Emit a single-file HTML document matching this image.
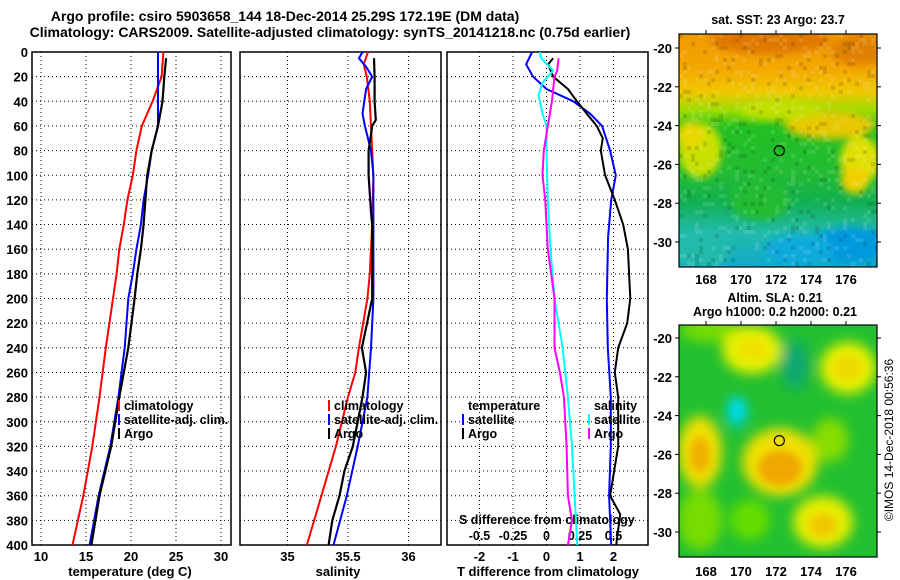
<!DOCTYPE html>
<html><head><meta charset="utf-8"><style>
html,body{margin:0;padding:0;background:#fff;}
svg{display:block;font-family:"Liberation Sans",sans-serif;font-weight:bold;}
</style></head><body>
<svg id="chart" width="900" height="580" viewBox="0 0 900 580" xmlns="http://www.w3.org/2000/svg">
<defs>
<filter id="blur4" x="-50%" y="-50%" width="200%" height="200%"><feGaussianBlur stdDeviation="6"/></filter>
<filter id="blur2" x="-50%" y="-50%" width="200%" height="200%"><feGaussianBlur stdDeviation="4"/></filter>
<clipPath id="clipSst"><rect x="679" y="34" width="198" height="233"/></clipPath>
<clipPath id="clipSla"><rect x="679" y="325" width="198" height="232"/></clipPath>
<linearGradient id="sstGrad" x1="0" y1="0" x2="0" y2="1">
<stop offset="0" stop-color="#f09a00"/><stop offset="0.15" stop-color="#f4a800"/><stop offset="0.25" stop-color="#f0c800"/>
<stop offset="0.33" stop-color="#99dd00"/><stop offset="0.4" stop-color="#22c022"/><stop offset="0.6" stop-color="#22bb33"/><stop offset="0.72" stop-color="#11b050"/>
<stop offset="0.85" stop-color="#22bbaa"/><stop offset="1" stop-color="#11aacc"/>
</linearGradient>
</defs>
<text x="285" y="21" text-anchor="middle" font-size="14">Argo profile: csiro 5903658_144 18-Dec-2014 25.29S 172.19E (DM data)</text>
<text x="330" y="37" text-anchor="middle" font-size="14">Climatology: CARS2009. Satellite-adjusted climatology: synTS_20141218.nc (0.75d earlier)</text>
<g id="panels"></g>
<g id="maps"></g>
<text transform="translate(893,440) rotate(-90)" text-anchor="middle" font-size="12" font-weight="normal">©IMOS 14-Dec-2018 00:56:36</text>
</svg>
<script>
// ---- data (depth in m) ----
const depthsTemp = [0,20,40,60,80,100,120,140,160,180,200,240,280,320,360,400];
const tempClim   = [23.6,23.4,22.4,21.2,20.6,20.2,19.6,19.2,18.7,18.4,18.0,17.2,16.5,15.7,14.7,13.5];
const tempSat    = [23.0,23.0,23.0,23.0,22.3,21.9,21.4,21.1,20.6,20.2,19.7,19.3,18.6,17.7,16.4,15.4];
const depthsArgoT= [5,20,40,60,80,100,120,140,160,180,200,240,280,320,360,400];
const tempArgo   = [23.9,23.7,23.5,23.0,22.3,21.8,21.6,21.4,21.1,20.7,20.4,19.7,18.7,17.8,16.5,15.6];

const depthsSalClim = [0,10,20,40,60,100,140,180,200,240,260,280,320,360,400];
const salClim       = [35.665,35.63,35.655,35.68,35.69,35.71,35.70,35.68,35.66,35.59,35.56,35.50,35.40,35.28,35.16];
const depthsSalSat  = [0,5,12,20,30,50,60,80,100,200,240,280,320,360,400];
const salSat        = [35.62,35.59,35.65,35.70,35.65,35.62,35.64,35.69,35.71,35.71,35.69,35.66,35.58,35.49,35.38];
const depthsSalArgo = [5,20,40,55,60,80,100,130,140,180,200,240,260,280,300,320,340,360,380,400];
const salArgo       = [35.715,35.72,35.72,35.73,35.70,35.67,35.67,35.69,35.70,35.70,35.70,35.615,35.65,35.62,35.58,35.54,35.47,35.43,35.37,35.34];

const depthsTdSat  = [0,10,20,30,40,50,60,80,100,120,150,200,240,280,320,360,400];
const tdiffSat     = [-0.43,-0.61,-0.4,0,0.8,1.3,1.66,1.9,2.07,1.93,1.84,1.8,1.83,1.92,1.92,1.87,1.93];
const depthsTdArgo = [5,10,20,30,40,50,60,70,80,100,120,140,160,200,220,240,260,280,320,360,375,400];
const tdiffArgo    = [0.2,0.05,0.2,0.64,0.91,1.2,1.5,1.68,1.62,1.75,2.04,2.29,2.43,2.5,2.41,2.14,2.04,2.14,2.14,1.9,2.2,2.08];
const depthsSdSat  = [0,5,15,25,35,50,60,80,120,160,200,240,280,320,360,400];
const sdiffSat     = [-0.05,-0.04,0.05,-0.03,-0.06,-0.03,0,0,0.01,0.03,0.06,0.12,0.16,0.19,0.21,0.23];
const depthsSdArgo = [5,15,20,40,60,80,100,120,140,160,200,240,260,280,300,320,360,380,400];
const sdiffArgo    = [0.09,0.08,0.06,0.04,0.01,-0.02,-0.03,-0.01,0,0.01,0.06,0.06,0.1,0.13,0.14,0.15,0.16,0.19,0.16];

const depthTicks = [0,20,40,60,80,100,120,140,160,180,200,220,240,260,280,300,320,340,360,380,400];
const tempTicks = [10,15,20,25,30];
const salTicks = [35,35.5,36];
const salTickLabels = ['35','35.5','36'];
const tdTicks = [-2,-1,0,1,2];
const sdTicks = [-0.5,-0.25,0,0.25,0.5];
const sdTickLabels = ['-0.5','-0.25','0','0.25','0.5'];
const lonTicks = [168,170,172,174,176];
const latTicks = [-20,-22,-24,-26,-28,-30];

// ---- scales ----
const NS='http://www.w3.org/2000/svg';
const Y0=52, Y1=545;
const yD = d => Y0 + d*(Y1-Y0)/400;
const xT = t => 41 + (t-10)*9;
const xS = s => 287.5 + (s-35)*121;
const xTd = v => 546.5 + v*33.5;
const xSd = v => 546.5 + v*134;

function el(tag, attrs, parent){const e=document.createElementNS(NS,tag);for(const k in attrs)e.setAttribute(k,attrs[k]);parent.appendChild(e);return e;}
function txt(parent,x,y,s,anchor,size){const t=el('text',{x:x,y:y,'text-anchor':anchor||'start','font-size':size||12},parent);t.textContent=s;return t;}

const panels=document.getElementById('panels');
const P=[{x0:32,x1:231,name:'temperature-panel'},{x0:240,x1:441,name:'salinity-panel'},{x0:447,x1:648,name:'difference-panel'}];

P.forEach((p,i)=>{
  const g=el('g',{},panels);
  
  
  depthTicks.forEach(d=>{
    if(d>0 && d<400){
      const l=el('line',{x1:p.x0,x2:p.x1,y1:yD(d),y2:yD(d),stroke:'#000','stroke-width':1,'stroke-dasharray':'1,3'},g);
      
      
    }
  });
  const ticks = i===0?tempTicks.map(xT):i===1?salTicks.map(xS):tdTicks.map(xTd);
  ticks.forEach(x=>{
    const l=el('line',{x1:x,x2:x,y1:Y0,y2:Y1,stroke:'#000','stroke-width':1,'stroke-dasharray':'1,3'},g);
    
    
  });
  const fr=el('rect',{x:p.x0,y:Y0,width:p.x1-p.x0,height:Y1-Y0,fill:'none',stroke:'#000','stroke-width':1.5},g);
  
  
});

const yl=el('g',{},panels);


depthTicks.forEach(d=>{const t=txt(yl,28,yD(d)+5,String(d),'end',13);});

function xlabels(arr,labels,fx,name){
  const g=el('g',{},panels);
  
  
  arr.forEach((v,k)=>{const t=txt(g,fx(v),561,labels[k],'middle',13);});
}
xlabels(tempTicks,tempTicks.map(String),xT,'temperature-axis');
xlabels(salTicks,salTickLabels,xS,'salinity-axis');
xlabels(tdTicks,tdTicks.map(String),xTd,'t-difference-axis');
let t;
t=txt(panels,130,576,'temperature (deg C)','middle',13);
t=txt(panels,338,576,'salinity','middle',13);
t=txt(panels,548,576,'T difference from climatology','middle',13);
t=txt(panels,459,524,'S difference from climatology','start',12.5);
sdTicks.forEach((v,k)=>{const tt=txt(panels,xSd(v),540,sdTickLabels[k],'middle',12.5);});

function line(depths,vals,fx,color,w,name){
  const pts=depths.map((d,k)=>fx(vals[k]).toFixed(1)+','+yD(d).toFixed(1)).join(' ');
  const pl=el('polyline',{points:pts,fill:'none',stroke:color,'stroke-width':w,'stroke-linejoin':'round'},panels);
  
  
}
line(depthsTemp,tempClim,xT,'#f00',2,'temperature-climatology-line');
line(depthsTemp,tempSat,xT,'#00f',2,'temperature-satellite-line');
line(depthsArgoT,tempArgo,xT,'#000',2.2,'temperature-argo-line');
line(depthsSalClim,salClim,xS,'#f00',2,'salinity-climatology-line');
line(depthsSalSat,salSat,xS,'#00f',2,'salinity-satellite-line');
line(depthsSalArgo,salArgo,xS,'#000',2.2,'salinity-argo-line');
line(depthsTdSat,tdiffSat,xTd,'#00f',2,'t-difference-satellite-line');
line(depthsTdArgo,tdiffArgo,xTd,'#000',2,'t-difference-argo-line');
line(depthsSdSat,sdiffSat,xSd,'#0ff',2,'s-difference-satellite-line');
line(depthsSdArgo,sdiffArgo,xSd,'#f0f',2,'s-difference-argo-line');

function legend(x,rows,name){
  const g=el('g',{},panels);
  
  
  rows.forEach(r=>{
    if(r.c){const m=el('rect',{x:x,y:r.y-10,width:2,height:11,fill:r.c},g);}
    const tt=txt(g,x+6,r.y,r.s,'start',12.5);
    
    
  });
}
legend(118,[{y:410,s:'climatology',c:'#f00'},{y:424,s:'satellite-adj. clim.',c:'#00f'},{y:438,s:'Argo',c:'#000'}],'temperature-legend');
legend(328,[{y:410,s:'climatology',c:'#f00'},{y:424,s:'satellite-adj. clim.',c:'#00f'},{y:438,s:'Argo',c:'#000'}],'salinity-legend');
legend(462,[{y:410,s:'temperature'},{y:424,s:'satellite',c:'#00f'},{y:438,s:'Argo',c:'#000'}],'t-difference-legend');
legend(588,[{y:410,s:'salinity'},{y:424,s:'satellite',c:'#0ff'},{y:438,s:'Argo',c:'#f0f'}],'s-difference-legend');

// ---- maps ----
const maps=document.getElementById('maps');
const lonX = lon=>706+(lon-168)*17.5;
const latY = (lat,y20)=>y20+(-20-lat)*19.4;

function mapAxes(yTop,yBot,y20,labelY,name){
  const g=el('g',{},maps);
  
  
  lonTicks.forEach(l=>{
    const x=lonX(l);
    el('line',{x1:x,x2:x,y1:yTop-4,y2:yTop,stroke:'#000'},g);
    const tt=txt(g,x,labelY,String(l),'middle',13);
  });
  latTicks.forEach(l=>{
    const y=latY(l,y20);
    el('line',{x1:877,x2:881,y1:y,y2:y,stroke:'#000'},g);
    el('line',{x1:675,x2:679,y1:y,y2:y,stroke:'#000'},g);
    const tt=txt(g,672,y+5,String(l),'end',13);
  });
  el('rect',{x:679,y:yTop,width:198,height:yBot-yTop,fill:'none',stroke:'#000','stroke-width':1.2},g);
}

// SST map
const sst=el('g',{'clip-path':'url(#clipSst)'},maps);


el('rect',{x:679,y:34,width:198,height:233,fill:'url(#sstGrad)'},sst);
const sb=el('g',{filter:'url(#blur2)'},sst);
[[700,150,22,28,'#c8e000'],[690,135,14,14,'#e8d800'],[860,160,20,24,'#e0e000'],[855,180,14,14,'#f0d000'],[830,125,45,14,'#e8c800'],[770,40,60,14,'#e07800'],[860,50,30,15,'#e08000'],[780,110,40,10,'#c0e000'],[760,200,30,20,'#22bb33'],[850,245,40,18,'#0099dd'],[800,250,35,15,'#11aadd'],[700,250,30,18,'#22bbaa']].forEach(b=>el('ellipse',{cx:b[0],cy:b[1],rx:b[2],ry:b[3],fill:b[4]},sb));
for(let gx=0;gx<50;gx++){for(let gy=0;gy<59;gy++){
  const h=((gx*73856093)^(gy*19349663))>>>0;
  if(h%5===0){el('rect',{x:679+gx*4,y:34+gy*4,width:4,height:4,fill:(h%3===0)?'#000':'#fff',opacity:0.12},sst);}
}}
el('circle',{cx:lonX(172.19),cy:latY(-25.29,48),r:5,fill:'none',stroke:'#000','stroke-width':1.2},sst);
mapAxes(34,267,48,284,'sst-map-axes');
t=txt(maps,778,24,'sat. SST: 23 Argo: 23.7','middle',12.5);

// SLA map
const sla=el('g',{'clip-path':'url(#clipSla)'},maps);


el('rect',{x:679,y:325,width:198,height:232,fill:'#22c030'},sla);
const bb=el('g',{filter:'url(#blur4)'},sla);
[[710,330,30,12,'#77dd00'],[700,520,22,30,'#77dd00'],[752,350,30,24,'#e8f000'],[848,368,28,26,'#e8f000'],[700,452,22,36,'#f0e000'],[780,462,38,34,'#f0e000'],[823,522,30,26,'#e8ee00'],[830,440,18,22,'#88dd00'],[795,365,14,25,'#10a870'],[737,412,10,16,'#00d0d0'],[750,520,20,20,'#66dd00']].forEach(b=>el('ellipse',{cx:b[0],cy:b[1],rx:b[2],ry:b[3],fill:b[4]},bb));
const bc=el('g',{filter:'url(#blur2)'},sla);
[[700,455,10,18,'#f0b000'],[780,468,22,18,'#f0a800'],[823,525,14,12,'#f0c800'],[848,368,14,12,'#f0d800'],[753,350,14,10,'#f0e000'],[737,410,6,9,'#00dddd']].forEach(b=>el('ellipse',{cx:b[0],cy:b[1],rx:b[2],ry:b[3],fill:b[4]},bc));
el('circle',{cx:lonX(172.19),cy:latY(-25.29,338),r:5,fill:'none',stroke:'#000','stroke-width':1.2},sla);
mapAxes(325,557,338,576,'sla-map-axes');
t=txt(maps,775,302,'Altim. SLA: 0.21','middle',12.5);
t=txt(maps,775,316,'Argo h1000: 0.2 h2000: 0.21','middle',12.5);
</script>
</body></html>
